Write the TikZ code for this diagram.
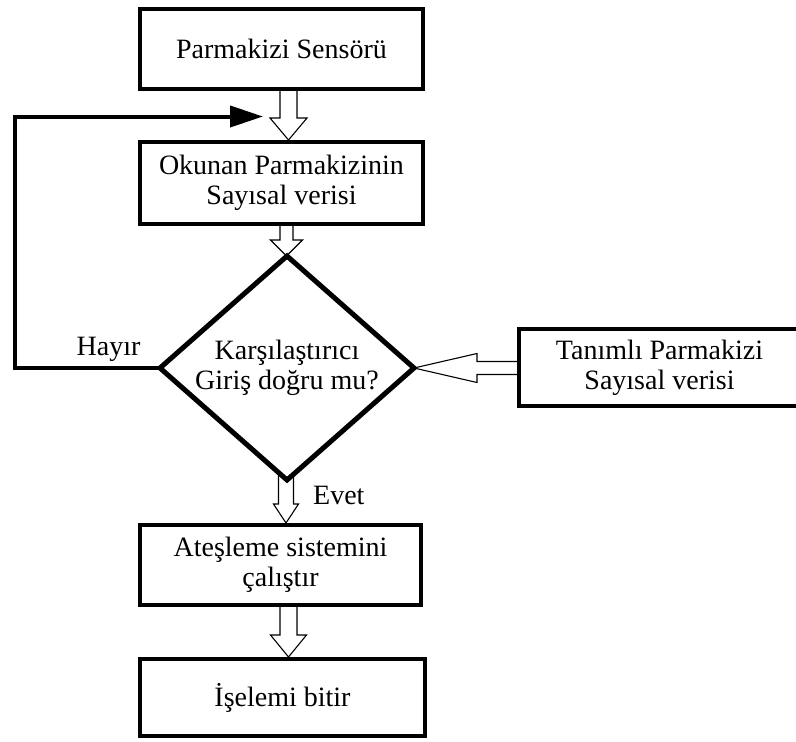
\documentclass[tikz,border=0pt]{standalone}
\usepackage{fontspec}
\setmainfont{Liberation Serif}
\usetikzlibrary{shapes.geometric,arrows.meta,calc}
\pgfdeclarelayer{bg}
\pgfsetlayers{bg,main}
\tikzset{
  txt/.style={font=\fontsize{28}{30}\selectfont},
  box/.style={txt, draw, line width=4pt, inner sep=0pt, align=center},
  dia/.style={diamond, draw, line width=5pt, inner sep=0pt, outer sep=0pt,
    minimum width=254pt, minimum height=224pt},
  blockarrow/.style={draw, fill=white, line width=1.1pt, line join=miter},
  fb/.style={line width=4pt, line join=miter, -{Triangle[length=33pt,width=21pt]}}
}
% vertical hollow block arrow (downwards): from, to, shaft width, head width, head length
\newcommand{\vblock}[5]{%
  \draw[blockarrow] let \p1=(#1), \p2=(#2) in
    (\x1-#3/2,\y1) -- (\x1-#3/2,\y2+#5) -- (\x1-#4/2,\y2+#5) -- (\x1,\y2)
    -- (\x1+#4/2,\y2+#5) -- (\x1+#3/2,\y2+#5) -- (\x1+#3/2,\y1);}
% horizontal hollow block arrow (leftwards): from, to (tip), shaft width, head width, head length
\newcommand{\hblock}[5]{%
  \draw[blockarrow] let \p1=(#1), \p2=(#2) in
    (\x1,\y2+#3/2) -- (\x2+#5,\y2+#3/2) -- (\x2+#5,\y2+#4/2) -- (\x2,\y2)
    -- (\x2+#5,\y2-#4/2) -- (\x2+#5,\y2-#3/2) -- (\x1,\y2-#3/2);}
\begin{document}
\begin{tikzpicture}[x=1pt,y=-1pt]
\useasboundingbox (0,0) rectangle (796,742);
\clip (0,0) rectangle (796,742);

\node[box, minimum width=283pt, minimum height=80pt] (b1) at (281.5,49) {Parmakizi Sensörü};
\node[box, minimum width=283pt, minimum height=82pt] (b2) at (281.5,183) {Okunan Parmakizinin\\Sayısal verisi};
\node[dia] (d) at (287,368) {};
\node[txt, align=center, inner sep=0pt] (dtxt) at (d.center) {Karşılaştırıcı\\Giriş doğru mu?};
\node[box, minimum width=281pt, minimum height=77pt] (t) at (659.5,367.5) {Tanımlı Parmakizi\\Sayısal verisi};
\node[box, minimum width=281pt, minimum height=80pt] (b4) at (280.5,565) {Ateşleme sistemini\\çalıştır};
\node[box, minimum width=285pt, minimum height=77pt] (b5) at (282.5,697.5) {İşelemi bitir};

\node[txt, anchor=base, inner sep=0pt] (hayir) at (108.5,355) {Hayır};
\node[txt, anchor=base west, inner sep=0pt] (evet) at (313,504) {Evet};

\begin{pgfonlayer}{bg}
  \vblock{$(b1.south)+(7,0)$}{$(b2.north)+(7,0)$}{17pt}{37pt}{22pt}
  \vblock{$(b2.south)+(5,0)$}{$(d.north)+(0,0)$}{13pt}{32pt}{16pt}
  \vblock{$(d.south)+(-1,-7)$}{$(b4.north)+(5.5,0)$}{15pt}{25pt}{19pt}
  \vblock{$(b4.south)+(8,0)$}{$(b5.north)+(6,0)$}{17pt}{36pt}{22pt}
  \hblock{t.west}{d.east}{13pt}{29pt}{63pt}
\end{pgfonlayer}

\coordinate (fbcorner) at (14.5,116.5);
\coordinate (fbtip) at (263,116.5);
\draw[fb] (d.west) -| (fbcorner) -- (fbtip);
\end{tikzpicture}
\end{document}
